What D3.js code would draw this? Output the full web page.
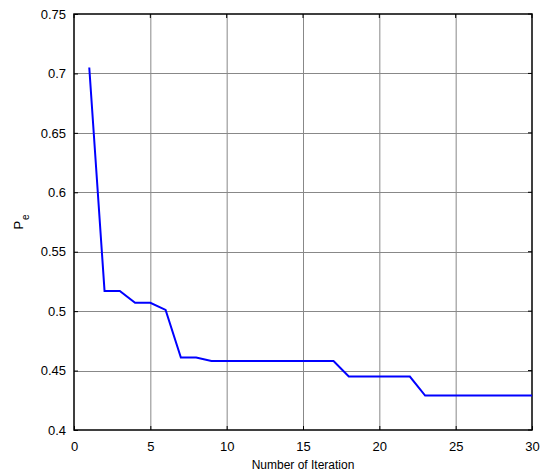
<!DOCTYPE html>
<html>
<head>
<meta charset="utf-8">
<script src="https://cdn.jsdelivr.net/npm/d3@7"></script>
<style>
  body { margin: 0; background: #fff; }
  text { font-family: "Liberation Sans", Arial, sans-serif; }
</style>
</head>
<body>
<div class="svg-mount"></div>
<script>
const iterations = [1, 2, 3, 4, 5, 6, 7, 8, 9, 10, 11, 12, 13, 14, 15, 16, 17, 18, 19, 20, 21, 22, 23, 24, 25, 26, 27, 28, 29, 30];
const pe = [0.705, 0.517, 0.517, 0.507, 0.507, 0.501, 0.461, 0.461, 0.458, 0.458,
  0.458, 0.458, 0.458, 0.458, 0.458, 0.458, 0.458, 0.445, 0.445, 0.445,
  0.445, 0.445, 0.429, 0.429, 0.429, 0.429, 0.429, 0.429, 0.429, 0.429];
const xTicks = [0, 5, 10, 15, 20, 25, 30];
const yTicks = [0.4, 0.45, 0.5, 0.55, 0.6, 0.65, 0.7, 0.75];

const actual_width = 547;
const actual_height = 475;
const margin = { top: 14, right: 15, bottom: 45, left: 74 };
const width = actual_width - margin.left - margin.right;
const height = actual_height - margin.top - margin.bottom;

const svg = d3
  .select(".svg-mount")
  .append("svg")
  .attr("width", actual_width)
  .attr("height", actual_height);

const g = svg
  .append("g")
  .attr("transform", `translate(${margin.left},${margin.top})`);

const x = d3.scaleLinear().domain([0, 30]).range([0, width]);
const y = d3.scaleLinear().domain([0.4, 0.75]).range([height, 0]);

// grid
g.append("g")
  .selectAll("line")
  .data(xTicks.slice(1, -1))
  .join("line")
  .attr("x1", (d) => x(d) + 0.5)
  .attr("x2", (d) => x(d) + 0.5)
  .attr("y1", 0)
  .attr("y2", height)
  .attr("stroke", "#888")
  .attr("stroke-width", 1);

g.append("g")
  .selectAll("line")
  .data(yTicks.slice(1, -1))
  .join("line")
  .attr("x1", 0)
  .attr("x2", width)
  .attr("y1", (d) => Math.round(y(d)) + 0.5)
  .attr("y2", (d) => Math.round(y(d)) + 0.5)
  .attr("stroke", "#888")
  .attr("stroke-width", 1);

// axes with inward ticks
const xAxis = g
  .append("g")
  .attr("transform", `translate(0,${height})`)
  .call(d3.axisBottom(x).tickValues(xTicks).tickSize(-4).tickPadding(12).tickFormat(d3.format("d")));
const yAxis = g
  .append("g")
  .call(d3.axisLeft(y).tickValues(yTicks).tickSize(-4).tickPadding(8).tickFormat((d) => String(+d.toFixed(2))));

[xAxis, yAxis].forEach((a) => {
  a.select(".domain").remove();
  a.selectAll("line").attr("stroke", "#000");
  a.selectAll("text").attr("font-size", 13).attr("fill", "#000")
    .style("font-family", '"Liberation Sans", Arial, sans-serif');
});

// top/right ticks
g.append("g")
  .selectAll("line")
  .data(xTicks)
  .join("line")
  .attr("x1", (d) => x(d))
  .attr("x2", (d) => x(d))
  .attr("y1", 0)
  .attr("y2", 4)
  .attr("stroke", "#000");
g.append("g")
  .selectAll("line")
  .data(yTicks)
  .join("line")
  .attr("x1", width)
  .attr("x2", width - 4)
  .attr("y1", (d) => y(d))
  .attr("y2", (d) => y(d))
  .attr("stroke", "#000");

// box
g.append("rect")
  .attr("x", 0)
  .attr("y", 0)
  .attr("width", width)
  .attr("height", height)
  .attr("fill", "none")
  .attr("stroke", "#000")
  .attr("stroke-width", 1.5);

// series
const line = d3
  .line()
  .x((d, i) => x(iterations[i]))
  .y((d) => y(d));

g.append("path")
  .datum(pe)
  .attr("d", line)
  .attr("fill", "none")
  .attr("stroke", "#0000ff")
  .attr("stroke-width", 2);

// labels
svg.append("text")
  .attr("x", margin.left + width / 2)
  .attr("y", 469)
  .attr("text-anchor", "middle")
  .attr("font-size", 12)
  .text("Number of Iteration");

const yl = svg.append("text")
  .attr("transform", `translate(23,${margin.top + height / 2}) rotate(-90)`)
  .attr("text-anchor", "middle")
  .attr("font-size", 13);
yl.append("tspan").text("P");
yl.append("tspan").attr("font-size", 10).attr("dy", 6).attr("dx", 1).text("e");
</script>
</body>
</html>
